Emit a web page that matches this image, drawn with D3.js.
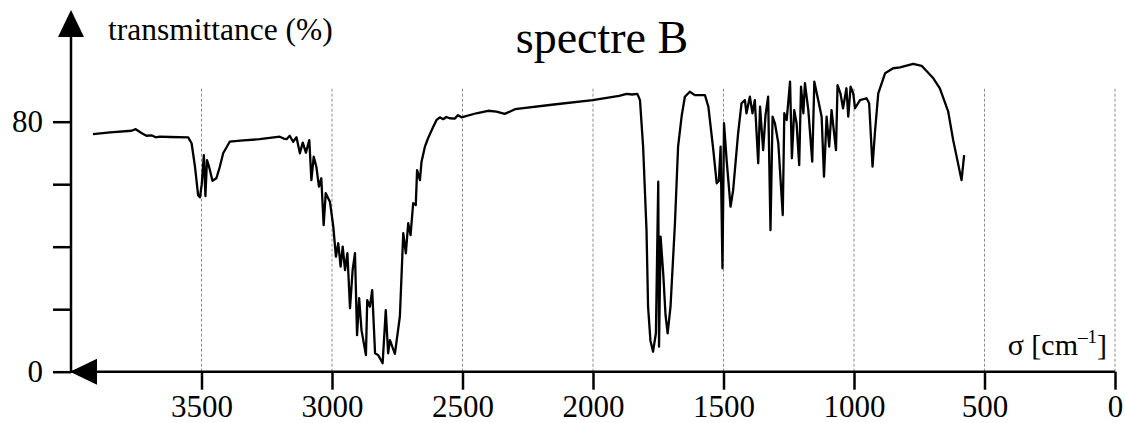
<!DOCTYPE html>
<html>
<head>
<meta charset="utf-8">
<script src="https://cdn.jsdelivr.net/npm/d3@7"></script>
<style>
  body { margin: 0; background: #fff; }
</style>
</head>
<body>
<script>
// wavenumber (cm-1), high to low
const sigma = [3916, 3850, 3768, 3752, 3730, 3711, 3690, 3675, 3660, 3620, 3551, 3538, 3525, 3513, 3506, 3499,
  3491, 3485, 3479, 3471, 3458, 3443, 3430, 3417, 3392, 3340, 3277, 3200, 3185, 3174, 3162, 3149, 3136, 3123,
  3112, 3100, 3087, 3079, 3070, 3060, 3050, 3041, 3032, 3024, 3008, 2995, 2985, 2976, 2967, 2959, 2950, 2941,
  2931, 2921, 2912, 2904, 2896, 2887, 2870, 2865, 2855, 2846, 2835, 2823, 2806, 2794, 2785, 2778, 2759, 2740,
  2727, 2717, 2708, 2699, 2689, 2679, 2674, 2663, 2657, 2644, 2632, 2612, 2600, 2587, 2574, 2562, 2549, 2530,
  2517, 2504, 2447, 2402, 2370, 2338, 2299, 2150, 2001, 1900, 1871, 1850, 1830, 1820, 1808, 1795, 1789, 1780,
  1770, 1759, 1750, 1747, 1741, 1731, 1722, 1714, 1703, 1686, 1674, 1660, 1648, 1629, 1610, 1571, 1558, 1539,
  1526, 1518, 1511, 1504, 1498, 1488, 1473, 1463, 1444, 1431, 1418, 1412, 1399, 1389, 1380, 1367, 1360, 1348,
  1339, 1329, 1320, 1312, 1303, 1290, 1273, 1267, 1258, 1245, 1238, 1229, 1220, 1210, 1203, 1194, 1188, 1175,
  1160, 1152, 1137, 1124, 1115, 1105, 1095, 1086, 1069, 1063, 1052, 1042, 1029, 1022, 1013, 1003, 996, 977,
  952, 942, 929, 920, 907, 881, 850, 824, 773, 741, 696, 671, 639, 620, 588, 578];

// transmittance (%) at each wavenumber above
const transmittance = [76.0, 76.6, 77.1, 77.6, 76.4, 75.5, 75.6, 75.0, 75.2, 75.1, 75.0, 73.1, 65.6, 56.5, 55.8, 60,
  69.3, 56.2, 67.7, 65.6, 61.1, 61.9, 65.5, 69.9, 73.6, 74.0, 74.4, 75.2, 74.6, 74.4, 75.5, 73.6, 75, 69.9,
  73.3, 70.1, 74.1, 61.3, 68.8, 65.6, 59.2, 61.9, 46.9, 57.1, 54.4, 46.4, 36.8, 41.1, 33.6, 40, 32.5, 37.9,
  20.3, 32.5, 37.9, 11.7, 23.5, 13.3, 5.3, 22.9, 20.8, 26.1, 5.9, 5.3, 2.7, 19.7, 5.9, 10.1, 5.7, 17.6,
  44.3, 37.9, 47.5, 43.7, 53.9, 53.3, 64.5, 61.3, 67.2, 72, 74.7, 78.4, 80.5, 81.4, 80.8, 81.5, 81.1, 81.0,
  82.1, 81.4, 82.7, 83.5, 83.2, 82.5, 84, 85.5, 86.9, 88.3, 88.9, 88.7, 88.9, 86.9, 72, 45.3, 20.8, 10,
  6.4, 12.3, 60.8, 8, 43.2, 31.5, 18, 12.3, 20.8, 47.5, 72, 82, 88, 89.6, 88.5, 88.5, 84.8, 70.9,
  60.3, 61, 72, 33.1, 79.5, 67.7, 52.8, 58.1, 76.3, 85.9, 86.9, 82.7, 88, 82.7, 86.9, 66.7, 84.8, 70.9,
  82.1, 88, 45.3, 81.6, 79.5, 73.1, 50.1, 82.7, 80.5, 92.8, 68.3, 83.7, 79.5, 66.1, 91.2, 82.7, 92.3, 83.7,
  67.2, 92.8, 86.9, 81.6, 62.4, 81.6, 72, 83.7, 70.9, 91.7, 89.1, 84.3, 90.7, 81.6, 91.2, 89.1, 84.3, 86.9,
  87.5, 85.9, 65.6, 76.3, 89.1, 95.5, 97.1, 97.4, 98.5, 97.9, 93.9, 90.7, 83.2, 74.1, 61.3, 69.3];

const xTicks = [3500, 3000, 2500, 2000, 1500, 1000, 500, 0];
const yTicks = [0, 20, 40, 60, 80];
const yLabels = [0, 80];

const SERIF = "'Liberation Serif', 'Times New Roman', Times, 'DejaVu Serif', serif";
const dims = { width: 1125, height: 423 };

const x = d3.scaleLinear().domain([4000, 0]).range([71, 1115]);
const y = d3.scaleLinear().domain([0, 80]).range([371.7, 121.7]);

const svg = d3.select("body").append("svg")
  .attr("width", dims.width)
  .attr("height", dims.height)
  .attr("font-family", SERIF);

// dashed vertical grid
svg.append("g")
  .selectAll("line")
  .data(xTicks)
  .enter().append("line")
  .attr("x1", d => x(d)).attr("x2", d => x(d))
  .attr("y1", y(0)).attr("y2", y(91))
  .attr("stroke", "#8c8c8c")
  .attr("stroke-width", 1)
  .attr("stroke-dasharray", "3,2");

// x axis
const xAxis = svg.append("g")
  .attr("transform", `translate(0,${y(0)})`)
  .call(d3.axisBottom(x).tickValues(xTicks).tickSize(18).tickPadding(5).tickFormat(d3.format("d")));
xAxis.attr("font-family", SERIF).attr("font-size", 31);
xAxis.select(".domain").remove();
xAxis.selectAll(".tick line").attr("stroke", "#000").attr("stroke-width", 2.5);

// y axis
const yAxis = svg.append("g")
  .attr("transform", `translate(${x(4000)},0)`)
  .call(d3.axisLeft(y).tickValues(yTicks).tickSize(18).tickPadding(10)
    .tickFormat(d => yLabels.includes(d) ? d : ""));
yAxis.attr("font-family", SERIF).attr("font-size", 31);
yAxis.select(".domain").remove();
yAxis.selectAll(".tick line").attr("stroke", "#000").attr("stroke-width", 2.5);

// axis lines with arrow heads
const x0 = x(4000), yBase = y(0);
svg.append("line")
  .attr("x1", x0).attr("x2", x(0))
  .attr("y1", yBase).attr("y2", yBase)
  .attr("stroke", "#000").attr("stroke-width", 2.5);
svg.append("line")
  .attr("x1", x0).attr("x2", x0)
  .attr("y1", yBase).attr("y2", 30)
  .attr("stroke", "#000").attr("stroke-width", 2.5);
svg.append("path")
  .attr("d", `M${x0 - 1},${yBase} L${x0 + 26},${yBase - 13} L${x0 + 26},${yBase + 13} Z`)
  .attr("fill", "#000");
svg.append("path")
  .attr("d", `M${x0},10 L${x0 - 13},37 L${x0 + 13},37 Z`)
  .attr("fill", "#000");

// spectrum
const points = sigma.map((s, i) => [s, transmittance[i]]);
svg.append("path")
  .datum(points)
  .attr("fill", "none")
  .attr("stroke", "#000")
  .attr("stroke-width", 2.3)
  .attr("stroke-linejoin", "round")
  .attr("d", d3.line().x(d => x(d[0])).y(d => y(d[1])));

// texts
svg.append("text")
  .attr("x", 108).attr("y", 40)
  .attr("font-size", 31.5)
  .text("transmittance (%)");

svg.append("text")
  .attr("x", 602).attr("y", 53)
  .attr("text-anchor", "middle")
  .attr("font-size", 46)
  .text("spectre B");

const sigLabel = svg.append("text")
  .attr("x", 1107).attr("y", 355)
  .attr("text-anchor", "end")
  .attr("font-size", 30);
sigLabel.append("tspan").text("σ [cm");
sigLabel.append("tspan").attr("dy", -12).attr("font-size", 19).text("–1");
sigLabel.append("tspan").attr("dy", 12).text("]");
</script>
</body>
</html>
